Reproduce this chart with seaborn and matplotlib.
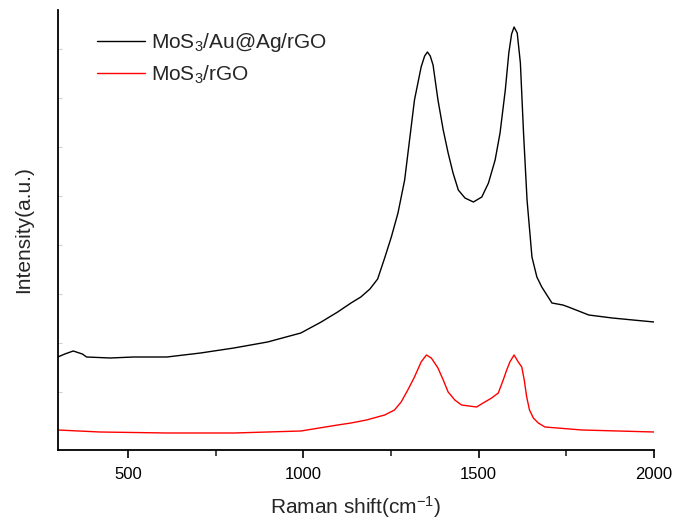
import numpy as np
import pandas as pd
import matplotlib
matplotlib.use("Agg")
import matplotlib.pyplot as plt
from matplotlib.ticker import FixedLocator
import seaborn as sns

# Raman spectra (wavenumber in cm^-1, intensity in arbitrary units)
au_ag_shift = [300, 320, 344, 370, 382, 450, 516, 611, 707, 802, 898, 993,
               1051, 1098, 1136, 1164, 1190, 1212, 1232, 1251, 1270, 1289,
               1303, 1317, 1336, 1346, 1354, 1362, 1370, 1384, 1399, 1413,
               1427, 1442, 1461, 1485, 1509, 1528, 1547, 1561, 1576, 1586,
               1594, 1601, 1610, 1619, 1628, 1638, 1652, 1666, 1680, 1709,
               1740, 1756, 1814, 1881, 1940, 2000]
au_ag_int = [93, 96, 99, 96, 93, 92, 93, 93, 97, 102, 108, 117,
             128, 138, 147, 153, 161, 171, 192, 213, 237, 270,
             310, 350, 383, 394, 398, 394, 385, 350, 320, 297,
             277, 260, 252, 248, 253, 267, 290, 317, 360, 397,
             416, 423, 417, 387, 317, 250, 193, 173, 163, 147,
             145, 143, 135, 132, 130, 128]

mos3_shift = [300, 420, 611, 802, 993, 1098, 1136, 1180, 1232, 1260, 1279,
              1298, 1317, 1336, 1351, 1365, 1384, 1399, 1413, 1432, 1451,
              1494, 1508, 1537, 1556, 1570, 1580, 1589, 1601, 1613, 1623,
              1630, 1637, 1645, 1656, 1670, 1689, 1795, 2000]
mos3_int = [20, 18, 17, 17, 19, 25, 27, 30, 35, 40, 48,
            60, 73, 88, 95, 92, 82, 70, 58, 50, 45,
            43, 46, 52, 57, 70, 80, 88, 95, 88, 83,
            70, 53, 40, 32, 27, 23, 20, 18]

labels = [r"MoS$_3$/Au@Ag/rGO", r"MoS$_3$/rGO"]
x_ticks = [500, 1000, 1500, 2000]

df = pd.concat([
    pd.DataFrame({"shift": au_ag_shift, "intensity": au_ag_int, "sample": labels[0]}),
    pd.DataFrame({"shift": mos3_shift, "intensity": mos3_int, "sample": labels[1]}),
], ignore_index=True)

sns.set_style("ticks")
plt.rcParams["font.family"] = ["Liberation Sans", "DejaVu Sans"]
plt.rcParams["mathtext.fontset"] = "custom"
plt.rcParams["mathtext.rm"] = "Liberation Sans"
plt.rcParams["mathtext.it"] = "Liberation Sans"

fig = plt.figure(figsize=(6.76, 5.23), dpi=100)
ax = fig.add_axes([57.8 / 676, (523 - 450) / 523, (654 - 57.8) / 676, 440 / 523])

sns.lineplot(data=df, x="shift", y="intensity", hue="sample",
             palette={labels[0]: "black", labels[1]: "red"},
             linewidth=1.0, ax=ax, sort=False, estimator=None)

ax.set_xlim(300, 2000)
ax.set_ylim(0, 440)
ax.set_xticks(x_ticks)
ax.xaxis.set_minor_locator(FixedLocator([750, 1250, 1750]))
ax.set_yticks(np.arange(58, 440, 49))
ax.set_yticklabels([])

for side in ("top", "right"):
    ax.spines[side].set_visible(False)
for side in ("left", "bottom"):
    ax.spines[side].set_linewidth(1.3)
    ax.spines[side].set_color("black")

ax.tick_params(axis="x", which="major", direction="out", length=6, width=1.2,
               labelsize=12, colors="black", pad=6)
ax.tick_params(axis="x", which="minor", direction="out", length=4, width=1.2)
ax.tick_params(axis="y", which="major", direction="in", length=3, width=0.8,
               color="#d0d0d0")

ax.set_xlabel(r"Raman shift(cm$^{-1}$)", fontsize=15, labelpad=9)
ax.set_ylabel("Intensity(a.u.)", fontsize=15, labelpad=14)

leg = ax.legend(loc="upper left", bbox_to_anchor=(0.035, 0.995), frameon=False,
                fontsize=15, handlelength=2.3, handletextpad=0.25,
                labelspacing=0.45)
for line in leg.get_lines():
    line.set_linewidth(1.0)

fig.savefig("out.png", dpi=100)
